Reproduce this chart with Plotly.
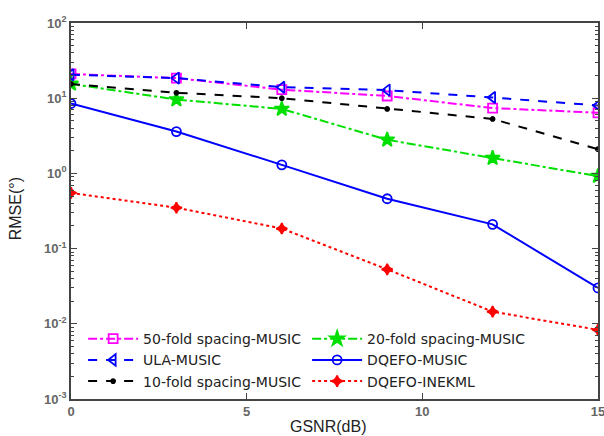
import plotly.graph_objects as go

gsnr = [0, 3, 6, 9, 12, 15]
fold50_music = [21.0, 18.5, 13.0, 10.7, 7.4, 6.4]
fold20_music = [15.5, 9.6, 7.2, 2.8, 1.6, 0.92]
ula_music = [20.5, 18.5, 14.0, 12.8, 10.2, 8.0]
dqefo_music = [8.5, 3.6, 1.3, 0.46, 0.21, 0.030]
fold10_music = [15.5, 11.8, 10.0, 7.2, 5.3, 2.1]
dqefo_inekml = [0.55, 0.35, 0.185, 0.053, 0.0145, 0.0083]

series = [
    ("50-fold spacing-MUSIC", fold50_music, "#ff00ff", "dashdot", "square-open", 9),
    ("20-fold spacing-MUSIC", fold20_music, "#00e000", "dashdot", "star", 11),
    ("ULA-MUSIC", ula_music, "#0000ff", "dash", "triangle-left-open", 10),
    ("DQEFO-MUSIC", dqefo_music, "#0000ff", "solid", "circle-open", 9),
    ("10-fold spacing-MUSIC", fold10_music, "#000000", "dash", "circle", 4),
    ("DQEFO-INEKML", dqefo_inekml, "#ff0000", "dot", "star-diamond", 8),
]

fig = go.Figure()
for name, vals, color, dash, sym, size in series:
    fig.add_trace(go.Scatter(
        x=gsnr, y=vals, name=name, mode="lines+markers",
        line=dict(color=color, dash=dash, width=2),
        marker=dict(symbol=sym, size=size, color=color,
                    line=dict(color=color, width=1.8)),
    ))

tickv = [1e-3, 1e-2, 1e-1, 1, 10, 100]
tickt = ["10<sup>-3</sup>", "10<sup>-2</sup>", "10<sup>-1</sup>",
         "10<sup>0</sup>", "10<sup>1</sup>", "10<sup>2</sup>"]

axcommon = dict(showgrid=False, zeroline=False, showline=True, linecolor="#444",
                linewidth=1.5, mirror="ticks", ticks="inside", ticklen=6,
                tickcolor="#444", automargin=False, ticklabeloverflow="allow",
                tickfont=dict(family="Arial", size=13, color="#666", weight="bold"))

fig.update_xaxes(range=[0, 15], tickvals=[0, 5, 10, 15], **axcommon)
fig.update_yaxes(type="log", range=[-3, 2], tickvals=tickv, ticktext=tickt,
                 minor=dict(ticks="inside", ticklen=3, tickcolor="#444", showgrid=False,
                            dtick="D1"),
                 **axcommon)

fig.add_annotation(text="GSNR(dB)", xref="paper", yref="paper",
                   x=0.488, y=-0.072, xanchor="center", yanchor="middle",
                   showarrow=False, font=dict(family="Arial", size=16, color="#222"))
fig.add_annotation(text="RMSE(°)", xref="paper", yref="paper", textangle=-90,
                   x=-0.106, y=0.505, xanchor="center", yanchor="middle",
                   showarrow=False, font=dict(family="Arial", size=16, color="#222"))

fig.update_layout(
    width=604, height=436,
    margin=dict(l=71, r=6, t=23, b=37),
    paper_bgcolor="white", plot_bgcolor="white",
    font=dict(family="Arial"),
    legend=dict(orientation="h", x=0.023, y=0.005, xanchor="left", yanchor="bottom",
                entrywidth=159, entrywidthmode="pixels",
                bgcolor="rgba(255,255,255,0)", tracegroupgap=0,
                font=dict(family="DejaVu Sans", size=14, color="#222"),
                itemwidth=50),
)

fig.write_html("out.html", config={"displayModeBar": False},
               post_script="document.body.style.margin='0';document.body.style.overflow='hidden';")
